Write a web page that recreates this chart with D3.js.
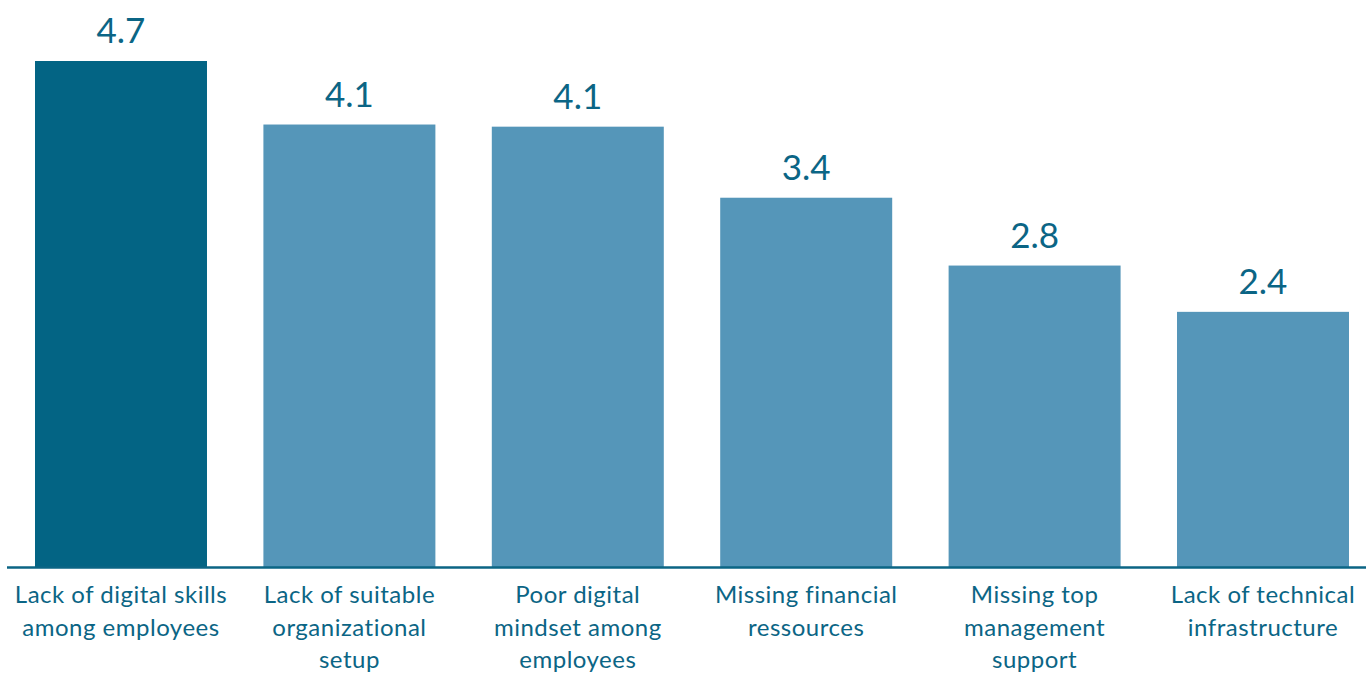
<!DOCTYPE html>
<html>
<head>
<meta charset="utf-8">
<script src="https://cdn.jsdelivr.net/npm/d3@7"></script>
<style>
  html, body { margin: 0; padding: 0; background: #fff; }
  svg text { font-family: Lato, "Open Sans", sans-serif; }
</style>
</head>
<body>
<div id="chart"></div>
<script>
// category labels, already wrapped as in the slide
const categories = [
  ["Lack of digital skills", "among employees"],
  ["Lack of suitable", "organizational", "setup"],
  ["Poor digital", "mindset among", "employees"],
  ["Missing financial", "ressources"],
  ["Missing top", "management", "support"],
  ["Lack of technical", "infrastructure"]
];
// mean scores (labels round to 1 decimal)
const values = [4.70, 4.11, 4.09, 3.43, 2.80, 2.37];
const highlight = [true, false, false, false, false, false];

const width = 1366, height = 674;
const baseY = 567;

const svg = d3.select("#chart").append("svg")
  .attr("width", width)
  .attr("height", height);

const x = d3.scaleBand()
  .domain(d3.range(values.length))
  .range([35, 1349])
  .paddingInner(0.247)
  .paddingOuter(0);

const y = d3.scaleLinear()
  .domain([0, 4.7])
  .range([baseY, 61]);

const color = d => d ? "#036484" : "#5596b9";

// bars
svg.selectAll("rect.bar")
  .data(values)
  .enter()
  .append("rect")
  .attr("class", "bar")
  .attr("x", (d, i) => x(i))
  .attr("y", d => y(d))
  .attr("width", x.bandwidth())
  .attr("height", d => baseY - y(d))
  .attr("fill", (d, i) => color(highlight[i]));

// value labels
svg.selectAll("text.value")
  .data(values)
  .enter()
  .append("text")
  .attr("class", "value")
  .attr("x", (d, i) => x(i) + x.bandwidth() / 2)
  .attr("y", d => y(d) - 18)
  .attr("text-anchor", "middle")
  .style("font-size", "35px")
  .style("fill", "#0b6585")
  .text(d => d3.format(".1f")(d));

// baseline
svg.append("line")
  .attr("x1", 7)
  .attr("x2", width)
  .attr("y1", baseY + 0.5)
  .attr("y2", baseY + 0.5)
  .attr("stroke", "#0b6585")
  .attr("stroke-width", 2.5);

// category labels
const cat = svg.selectAll("text.cat")
  .data(categories)
  .enter()
  .append("text")
  .attr("class", "cat")
  .attr("text-anchor", "middle")
  .style("font-size", "24px")
  .style("letter-spacing", "0.5px")
  .style("fill", "#0b6585");

cat.selectAll("tspan")
  .data((d, i) => d.map(line => ({ line, i })))
  .enter()
  .append("tspan")
  .attr("x", d => x(d.i) + x.bandwidth() / 2)
  .attr("y", (d, j) => 603 + j * 32.5)
  .text(d => d.line);
</script>
</body>
</html>
